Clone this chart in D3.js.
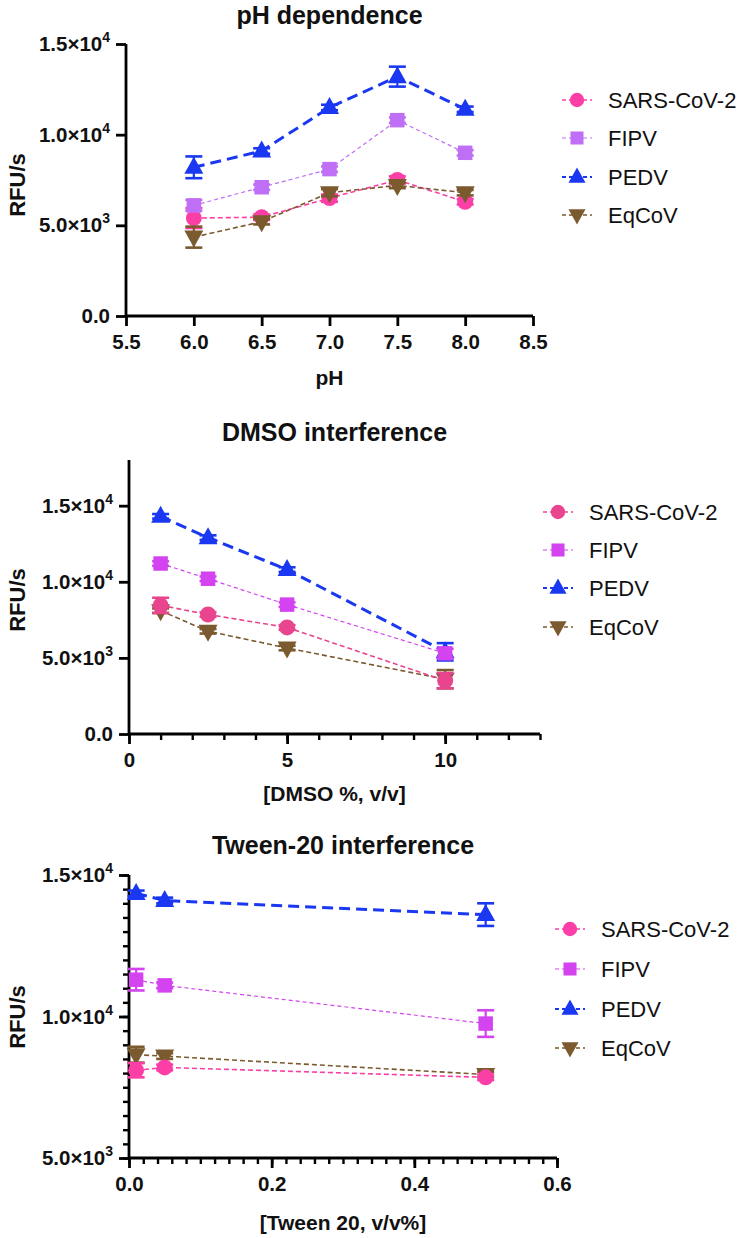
<!DOCTYPE html>
<html><head><meta charset="utf-8">
<script src="https://cdn.jsdelivr.net/npm/d3@7"></script>
<style>
html,body{margin:0;padding:0;background:#fff;}
svg text{font-family:"Liberation Sans",Arial,Helvetica,sans-serif;}
</style></head>
<body><svg id="c" width="740" height="1238"></svg>
<script>
// ---------- data ----------
const seriesNames = ["SARS-CoV-2", "FIPV", "PEDV", "EqCoV"];

// Panel 1: pH dependence
const phX = [6.0, 6.5, 7.0, 7.5, 8.0];
const phSARS = [5400, 5450, 6500, 7500, 6300];
const phSARSErr = [550, 150, 200, 200, 150];
const phFIPV = [6100, 7100, 8100, 10800, 9000];
const phFIPVErr = [300, 150, 150, 150, 150];
const phPEDV = [8200, 9100, 11500, 13200, 11400];
const phPEDVErr = [600, 150, 150, 550, 150];
const phEqCoV = [4350, 5200, 6800, 7200, 6800];
const phEqCoVErr = [580, 150, 200, 150, 150];
const phXTicks = [5.5, 6.0, 6.5, 7.0, 7.5, 8.0, 8.5];
const phYTicks = [0, 5000, 10000, 15000];

// Panel 2: DMSO interference
const dmsoX = [1, 2.5, 5, 10];
const dmsoSARS = [8450, 7850, 7000, 3500];
const dmsoSARSErr = [500, 150, 150, 500];
const dmsoFIPV = [11200, 10200, 8500, 5300];
const dmsoFIPVErr = [150, 150, 150, 300];
const dmsoPEDV = [14300, 12900, 10800, 5400];
const dmsoPEDVErr = [150, 150, 150, 570];
const dmsoEqCoV = [8100, 6750, 5650, 3600];
const dmsoEqCoVErr = [150, 150, 150, 600];
const dmsoXTicks = [0, 5, 10];
const dmsoXMinor = [0,1,2,3,4,5,6,7,8,9,10,11,12,13];
const dmsoYTicks = [0, 5000, 10000, 15000];

// Panel 3: Tween-20 interference
const tweenX = [0.01, 0.05, 0.5];
const tweenSARS = [8100, 8200, 7850];
const tweenSARSErr = [250, 100, 100];
const tweenFIPV = [11300, 11100, 9750];
const tweenFIPVErr = [380, 100, 470];
const tweenPEDV = [14350, 14100, 13600];
const tweenPEDVErr = [100, 100, 400];
const tweenEqCoV = [8650, 8600, 7950];
const tweenEqCoVErr = [280, 100, 100];
const tweenXTicks = [0.0, 0.2, 0.4, 0.6];
const tweenXMinor = d3.range(0, 31).map(i => i * 0.02);
const tweenYTicks = [5000, 10000, 15000];
const tweenYMinor = d3.range(0, 21).map(i => 5000 + i * 500);

// ---------- styles ----------
const styles = {
  "SARS-CoV-2": {shape: "circle", width: 1.6, dash: "5,3"},
  "FIPV": {shape: "square", width: 1.2, dash: "4,3"},
  "PEDV": {shape: "triangle", width: 3, dash: "11,6"},
  "EqCoV": {shape: "tridown", width: 1.6, dash: "5,3"}
};
const colorsP1 = {"SARS-CoV-2": "#fb3fa6", "FIPV": "#bf6ff5", "PEDV": "#1a38f2", "EqCoV": "#7b5a2f"};
const colorsP2 = {"SARS-CoV-2": "#e9458f", "FIPV": "#d443f0", "PEDV": "#1a38f2", "EqCoV": "#7b5a2f"};
const colorsP3 = {"SARS-CoV-2": "#fb3fa6", "FIPV": "#d443f0", "PEDV": "#1a38f2", "EqCoV": "#7b5a2f"};

const svg = d3.select("#c");

function symbolPath(shape) {
  if (shape === "circle") return d3.symbol(d3.symbolCircle, 200)();
  if (shape === "square") return d3.symbol(d3.symbolSquare, 210)();
  if (shape === "triangle") return "M0,-10.5L9.5,6.5L-9.5,6.5Z";
  return "M0,10.5L9.5,-6.5L-9.5,-6.5Z";
}

function fmtY(g, v) {
  const t = g.select("text");
  t.text(null);
  if (v === 0) { t.text("0.0"); return; }
  const e = Math.floor(Math.log10(v));
  const m = (v / Math.pow(10, e)).toFixed(1);
  t.append("tspan").text(m + "×10");
  t.append("tspan").attr("dy", -9).attr("font-size", 14).text(e);
}

function drawPanel(cfg) {
  const g = svg.append("g");
  const x = d3.scaleLinear().domain(cfg.xDomain).range(cfg.xRange);
  const y = d3.scaleLinear().domain(cfg.yDomain).range(cfg.yRange);
  const x0 = cfg.xRange[0], y0 = cfg.yRange[0];

  // minor ticks
  if (cfg.xMinor) {
    g.append("g").attr("transform", `translate(0,${y0})`)
      .call(d3.axisBottom(x).tickValues(cfg.xMinor).tickSize(6).tickFormat(""))
      .call(a => a.select(".domain").remove())
      .call(a => a.selectAll("line").attr("stroke", "#000").attr("stroke-width", 2.4));
  }
  if (cfg.yMinor) {
    g.append("g").attr("transform", `translate(${x0},0)`)
      .call(d3.axisLeft(y).tickValues(cfg.yMinor).tickSize(6).tickFormat(""))
      .call(a => a.select(".domain").remove())
      .call(a => a.selectAll("line").attr("stroke", "#000").attr("stroke-width", 2.4));
  }
  // x axis
  const xa = g.append("g").attr("transform", `translate(0,${y0})`)
    .call(d3.axisBottom(x).tickValues(cfg.xTicks).tickSize(10).tickSizeOuter(0).tickPadding(8)
      .tickFormat(cfg.xFmt));
  xa.select(".domain").attr("stroke", "#000").attr("stroke-width", 2.8)
    .attr("d", `M${cfg.xRange[0]},0H${cfg.xRange[1]}`);
  xa.selectAll("line").attr("stroke", "#000").attr("stroke-width", 2.8);
  xa.selectAll("text").attr("font-size", 20.5).attr("font-weight", "bold").attr("fill", "#111");
  // y axis
  const ya = g.append("g").attr("transform", `translate(${x0},0)`)
    .call(d3.axisLeft(y).tickValues(cfg.yTicks).tickSize(10).tickSizeOuter(0).tickPadding(6));
  ya.select(".domain").attr("stroke", "#000").attr("stroke-width", 2.8)
    .attr("d", `M0,${cfg.yRange[0]}V${cfg.yRange[1]}`);
  ya.selectAll("line").attr("stroke", "#000").attr("stroke-width", 2.8);
  ya.selectAll("text").attr("font-size", 20.5).attr("font-weight", "bold").attr("fill", "#111");
  ya.selectAll(".tick").each(function (d) { fmtY(d3.select(this), d); });

  // titles
  const cx = (cfg.xRange[0] + cfg.xRange[1]) / 2;
  g.append("text").attr("x", cx).attr("y", cfg.titleY).attr("text-anchor", "middle")
    .attr("font-size", 25).attr("font-weight", "bold").attr("fill", "#111").text(cfg.title);
  g.append("text").attr("x", cx).attr("y", cfg.xTitleY).attr("text-anchor", "middle")
    .attr("font-size", 21).attr("font-weight", "bold").attr("fill", "#111").text(cfg.xTitle);
  g.append("text").attr("transform", `translate(25,${cfg.yTitleY}) rotate(-90)`).attr("text-anchor", "middle")
    .attr("font-size", 22).attr("font-weight", "bold").attr("fill", "#111").text("RFU/s");

  // series
  const line = d3.line().x(d => x(d.x)).y(d => y(d.y));
  cfg.series.forEach(s => {
    const st = styles[s.name], col = cfg.colors[s.name];
    const pts = cfg.xs.map((xv, i) => ({x: xv, y: s.vals[i], e: s.err[i]}));
    const sg = g.append("g");
    sg.append("path").datum(pts).attr("d", line).attr("fill", "none")
      .attr("stroke", col).attr("stroke-width", st.width).attr("stroke-dasharray", st.dash);
    // error bars
    pts.forEach(p => {
      const px = x(p.x), pt = y(p.y + p.e), pb = y(p.y - p.e);
      sg.append("line").attr("x1", px).attr("x2", px).attr("y1", pt).attr("y2", pb)
        .attr("stroke", col).attr("stroke-width", 2.2);
      [pt, pb].forEach(yy => sg.append("line").attr("x1", px - 8.5).attr("x2", px + 8.5)
        .attr("y1", yy).attr("y2", yy).attr("stroke", col).attr("stroke-width", 2.6));
    });
    sg.selectAll(".m").data(pts).join("path").attr("class", "m")
      .attr("transform", d => `translate(${x(d.x)},${y(d.y)})`)
      .attr("d", symbolPath(st.shape)).attr("fill", col);
  });

  // legend
  seriesNames.forEach((n, i) => {
    const st = styles[n], col = cfg.colors[n];
    const ly = cfg.legY[i];
    const lg = g.append("g");
    lg.append("line").attr("x1", cfg.legX - 15).attr("x2", cfg.legX + 15).attr("y1", ly).attr("y2", ly)
      .attr("stroke", col).attr("stroke-width", Math.min(st.width, 2.2)).attr("stroke-dasharray", "4,3");
    lg.append("path").attr("transform", `translate(${cfg.legX},${ly}) scale(0.9)`)
      .attr("d", symbolPath(st.shape)).attr("fill", col);
    lg.append("text").attr("x", cfg.legX + 31).attr("y", ly + 8).attr("font-size", 22)
      .attr("fill", "#111").text(n);
  });
}

drawPanel({
  title: "pH dependence", titleY: 24, xTitle: "pH", xTitleY: 385, yTitleY: 185,
  xDomain: [5.5, 8.5], xRange: [126, 533], yDomain: [0, 15000], yRange: [316, 44],
  xTicks: phXTicks, yTicks: phYTicks, xFmt: d3.format(".1f"),
  xs: phX, colors: colorsP1,
  series: [
    {name: "SARS-CoV-2", vals: phSARS, err: phSARSErr},
    {name: "FIPV", vals: phFIPV, err: phFIPVErr},
    {name: "EqCoV", vals: phEqCoV, err: phEqCoVErr},
    {name: "PEDV", vals: phPEDV, err: phPEDVErr}
  ],
  legX: 577, legY: [100, 138, 177, 215]
});

drawPanel({
  title: "DMSO interference", titleY: 441, xTitle: "[DMSO %, v/v]", xTitleY: 801, yTitleY: 600,
  xDomain: [0, 13], xRange: [129, 540], yDomain: [0, 18000], yRange: [734, 460],
  xTicks: dmsoXTicks, xMinor: dmsoXMinor, yTicks: dmsoYTicks, xFmt: d3.format("d"),
  xs: dmsoX, colors: colorsP2,
  series: [
    {name: "EqCoV", vals: dmsoEqCoV, err: dmsoEqCoVErr},
    {name: "SARS-CoV-2", vals: dmsoSARS, err: dmsoSARSErr},
    {name: "PEDV", vals: dmsoPEDV, err: dmsoPEDVErr},
    {name: "FIPV", vals: dmsoFIPV, err: dmsoFIPVErr}
  ],
  legX: 558, legY: [512, 550, 588, 627]
});

drawPanel({
  title: "Tween-20 interference", titleY: 854, xTitle: "[Tween 20, v/v%]", xTitleY: 1230, yTitleY: 1017,
  xDomain: [0, 0.6], xRange: [129, 557], yDomain: [5000, 15000], yRange: [1158, 875],
  xTicks: tweenXTicks, xMinor: tweenXMinor, yTicks: tweenYTicks, yMinor: tweenYMinor, xFmt: d3.format(".1f"),
  xs: tweenX, colors: colorsP3,
  series: [
    {name: "EqCoV", vals: tweenEqCoV, err: tweenEqCoVErr},
    {name: "SARS-CoV-2", vals: tweenSARS, err: tweenSARSErr},
    {name: "FIPV", vals: tweenFIPV, err: tweenFIPVErr},
    {name: "PEDV", vals: tweenPEDV, err: tweenPEDVErr}
  ],
  legX: 570, legY: [929, 969, 1009, 1048]
});
</script></body></html>
